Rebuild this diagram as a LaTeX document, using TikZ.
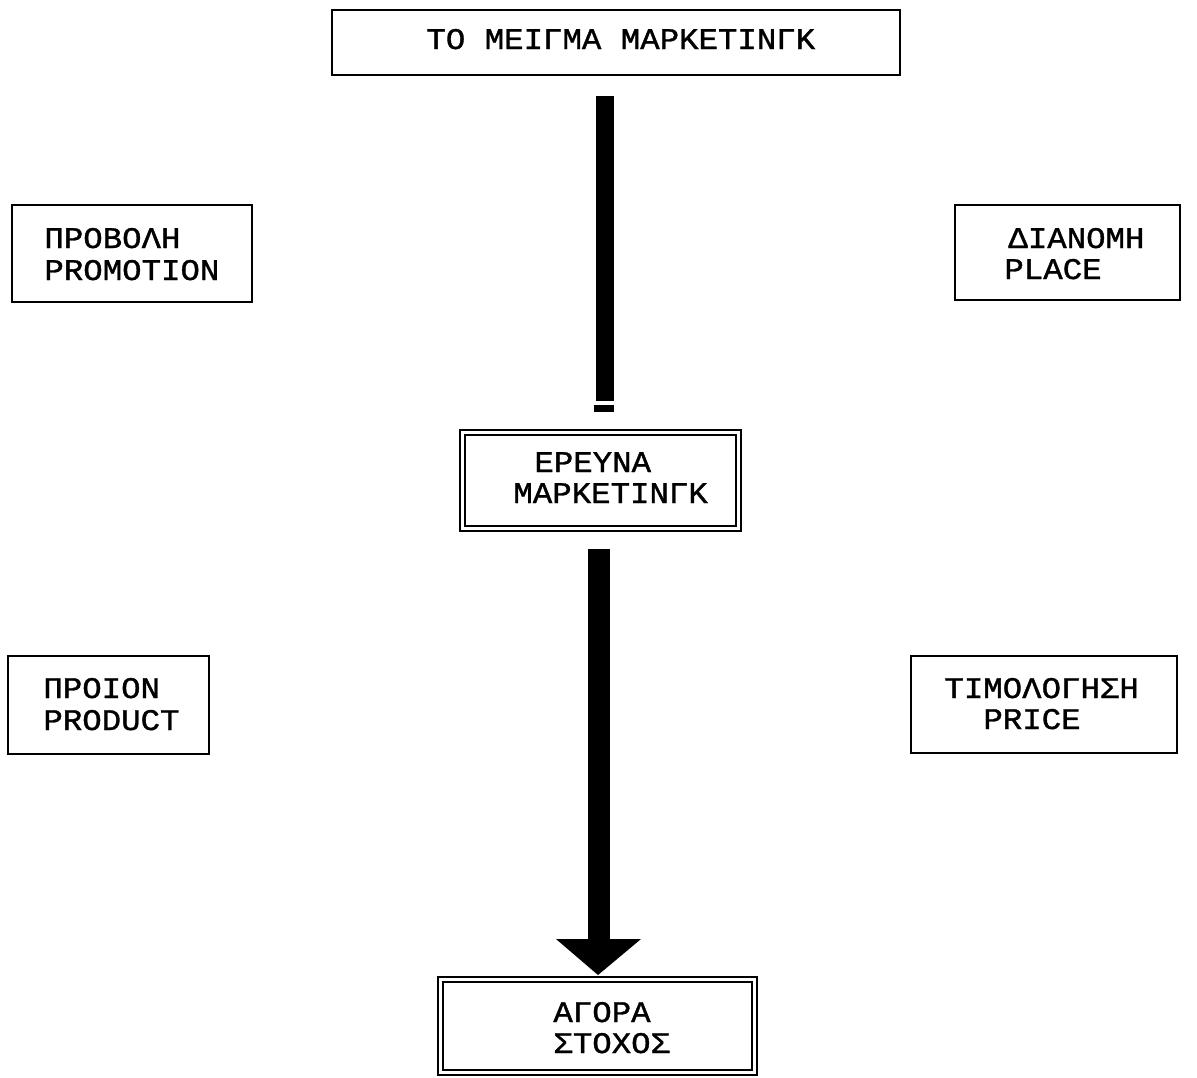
\documentclass[tikz,border=0pt]{standalone}
\usepackage{fontspec}
\setmainfont{Liberation Mono}
\newfontfamily\boxfont[FakeStretch=1.08,FakeBold=1.2]{Liberation Mono}
\usetikzlibrary{calc}
\begin{document}
\begin{tikzpicture}[x=0.5pt,y=-0.5pt,
  box/.style={draw,line width=1.3pt,inner sep=0pt,rectangle},
  dbox/.style={draw,line width=1pt,double,double distance=1.5pt,inner sep=0pt,rectangle},
  txt/.style={anchor=base west,inner sep=0pt,font=\boxfont\fontsize{15pt}{20pt}\selectfont},
  bar/.style={fill=black,draw=none}]
\useasboundingbox (0,0) rectangle (1197,1077);
\begin{scope}
\clip (0,0) rectangle (1197,1077);
% boxes
\node[box,minimum width=284pt,minimum height=32.5pt] (top) at (616,42.5) {};
\node[box,minimum width=120pt,minimum height=48.5pt] (prom) at (132,253.5) {};
\node[box,minimum width=112.5pt,minimum height=47.5pt] (place) at (1067.5,252.5) {};
\node[dbox,minimum width=138pt,minimum height=48pt] (res) at (600,480) {};
\node[box,minimum width=100.5pt,minimum height=49pt] (prod) at (108.5,705) {};
\node[box,minimum width=133pt,minimum height=48.5pt] (price) at (1044,704.5) {};
\node[dbox,minimum width=157pt,minimum height=46.5pt] (target) at (597,1025.5) {};
% texts
\node[txt] (t1) at (426,49) {ΤΟ ΜΕΙΓΜΑ ΜΑΡΚΕΤΙΝΓΚ};
\node[txt] (p1) at (44,248) {ΠΡΟΒΟΛΗ};
\node[txt] (p2) at (44,280) {PROMOTION};
\node[txt] (d1) at (1008,248) {ΔΙΑΝΟΜΗ};
\node[txt] (d2) at (1004,279) {PLACE};
\node[txt] (r1) at (534,472) {ΕΡΕΥΝΑ};
\node[txt] (r2) at (513,503) {ΜΑΡΚΕΤΙΝΓΚ};
\node[txt] (q1) at (43,698) {ΠΡΟΙΟΝ};
\node[txt] (q2) at (43,730) {PRODUCT};
\node[txt] (c1) at (944,698) {ΤΙΜΟΛΟΓΗΣΗ};
\node[txt] (c2) at (983,729) {PRICE};
\node[txt] (g1) at (553,1022) {ΑΓΟΡΑ};
\node[txt] (g2) at (553,1053) {ΣΤΟΧΟΣ};
% arrow 1: top -> research
\path[bar] ($(top.south)+(-20,20)$) rectangle ($(res.north)+(14,-30)$);
\path[bar] ($(res.north)+(-6,-26)$) rectangle ($(res.north)+(14,-19)$);
% arrow 2: research -> target
\path[bar] ($(res.south)+(-12,20)$) rectangle ($(target.north)+(13,-38)$);
\path[bar] ($(target.north)+(-41,-39)$) -- ($(target.north)+(44,-39)$) -- ($(target.north)+(1,-3)$) -- cycle;
\end{scope}
\end{tikzpicture}
\end{document}
